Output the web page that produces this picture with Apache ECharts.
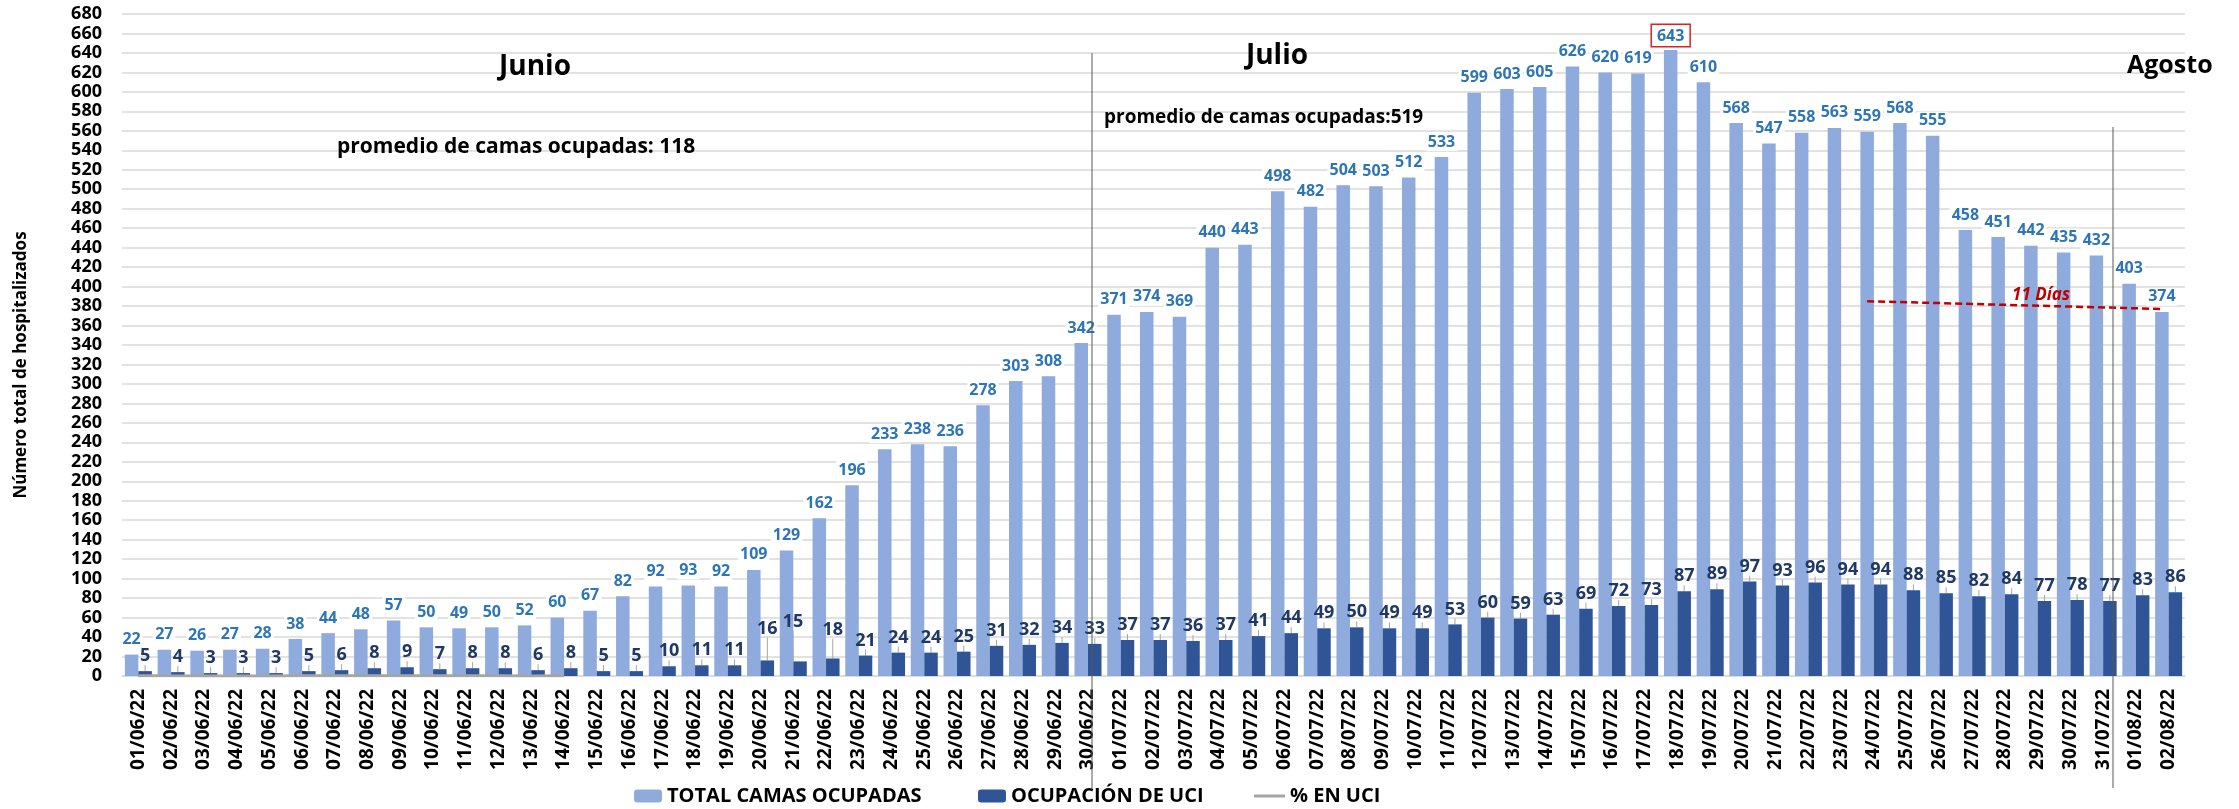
<!DOCTYPE html>
<html><head><meta charset="utf-8">
<script src="https://cdn.jsdelivr.net/npm/echarts@6/dist/echarts.min.js"></script>
<style>html,body{margin:0;padding:0;background:#fff}#c{width:2239px;height:809px}</style>
</head><body><div id="c"></div>
<script>
const categories = [
 '01/06/22','02/06/22','03/06/22','04/06/22','05/06/22','06/06/22','07/06/22','08/06/22','09/06/22','10/06/22',
 '11/06/22','12/06/22','13/06/22','14/06/22','15/06/22','16/06/22','17/06/22','18/06/22','19/06/22','20/06/22',
 '21/06/22','22/06/22','23/06/22','24/06/22','25/06/22','26/06/22','27/06/22','28/06/22','29/06/22','30/06/22',
 '01/07/22','02/07/22','03/07/22','04/07/22','05/07/22','06/07/22','07/07/22','08/07/22','09/07/22','10/07/22',
 '11/07/22','12/07/22','13/07/22','14/07/22','15/07/22','16/07/22','17/07/22','18/07/22','19/07/22','20/07/22',
 '21/07/22','22/07/22','23/07/22','24/07/22','25/07/22','26/07/22','27/07/22','28/07/22','29/07/22','30/07/22',
 '31/07/22','01/08/22','02/08/22'
];
const totalCamas = [
 22,27,26,27,28,38,44,48,57,50,
 49,50,52,60,67,82,92,93,92,109,
 129,162,196,233,238,236,278,303,308,342,
 371,374,369,440,443,498,482,504,503,512,
 533,599,603,605,626,620,619,643,610,568,
 547,558,563,559,568,555,458,451,442,435,
 432,403,374
];
const ocupacionUci = [
 5,4,3,3,3,5,6,8,9,7,
 8,8,6,8,5,5,10,11,11,16,
 15,18,21,24,24,25,31,32,34,33,
 37,37,36,37,41,44,49,50,49,49,
 53,60,59,63,69,72,73,87,89,97,
 93,96,94,94,88,85,82,84,77,78,
 77,83,86
];
const pctUci = [0.23,0.15,0.12,0.11,0.11,0.13,0.14,0.17,0.16,0.14,0.16,0.16,0.12,0.13];
const yMin = 0, yMax = 680, yStep = 20;
const seriesNames = ['TOTAL CAMAS OCUPADAS','OCUPACIÓN DE UCI','% EN UCI'];
const trendStart = ['24/07/22', 385], trendEnd = ['02/08/22', 377];

const FONT = 'Open Sans';
const maxIdx = totalCamas.indexOf(Math.max(...totalCamas));
const totalData = totalCamas.map((v,i) => i === maxIdx
  ? {value: v, label: {borderColor:'#E02020', borderWidth:1.5, padding:[3,5,2,5], distance:4, backgroundColor:'#fff'}}
  : v);
const movedLabels = {19:{dy:-17}, 20:{dx:-7, dy:-25}, 21:{dy:-14}};

const chart = echarts.init(document.getElementById('c'), null, {renderer:'canvas'});
const legendText = {color:'#000', fontSize:20, fontWeight:'bold', fontFamily:FONT};
chart.setOption({
  animation:false,
  backgroundColor:'#fff',
  textStyle:{fontFamily:FONT},
  grid:{left:122, right:54, top:14, bottom:133, containLabel:false},
  legend:[
    {data:[seriesNames[0]], left:634, top:786, itemWidth:28, itemHeight:13, itemGap:0, padding:0, textStyle:legendText},
    {data:[seriesNames[1]], left:978, top:786, itemWidth:28, itemHeight:13, itemGap:0, padding:0, textStyle:legendText},
    {data:[seriesNames[2]], left:1254, top:786, icon:'rect', itemWidth:31, itemHeight:3, itemGap:0, padding:0, textStyle:legendText}
  ],
  xAxis:{
    type:'category', data:categories,
    axisTick:{show:false},
    axisLine:{lineStyle:{color:'#D9D9D9', width:1.5}},
    axisLabel:{rotate:90, interval:0, margin:13, color:'#000', fontSize:19, fontWeight:'bold', fontFamily:FONT}
  },
  yAxis:{
    type:'value', min:yMin, max:yMax, interval:yStep,
    axisLine:{show:false}, axisTick:{show:false},
    splitLine:{lineStyle:{color:'#D9D9D9', width:1.5}},
    axisLabel:{margin:20, color:'#000', fontSize:18, fontWeight:'bold', fontFamily:FONT}
  },
  series:[
    {
      name:seriesNames[0], type:'bar', data:totalData, barWidth:13.5, barGap:'0%',
      itemStyle:{color:'#8FAADC'},
      label:{show:true, position:'top', distance:6, color:'#2E75B6', fontSize:16, fontWeight:'bold', fontFamily:FONT, backgroundColor:'#fff', padding:[1,2]},
      markLine:{
        silent:true, symbol:'none',
        lineStyle:{color:'#C00000', width:2.5, type:[7,4]},
        label:{show:false},
        data:[[{coord:trendStart},{coord:trendEnd}]]
      }
    },
    {
      name:seriesNames[1], type:'bar', data:ocupacionUci, barWidth:13.5, barGap:'0%',
      itemStyle:{color:'#2F5597'},
      label:{show:true, position:'top', distance:6, color:'#1F3864', fontSize:18, fontWeight:'bold', fontFamily:FONT},
      labelLine:{show:true, lineStyle:{color:'#A6A6A6', width:1}},
      labelLayout:function(p){ return movedLabels[p.dataIndex] || {}; }
    },
    {
      name:seriesNames[2], type:'line', data:pctUci, symbol:'none', showSymbol:false,
      lineStyle:{color:'#A5A5A5', width:3}, itemStyle:{color:'#A5A5A5'}, z:5
    }
  ],
  graphic:[
    {type:'line', shape:{x1:1092,y1:53,x2:1092,y2:788}, style:{stroke:'#595959', lineWidth:1}, z:100},
    {type:'line', shape:{x1:2113,y1:127,x2:2113,y2:788}, style:{stroke:'#595959', lineWidth:1}, z:100},
    {type:'text', x:21, y:365, rotation:Math.PI/2, z:100,
      style:{text:'Número total de hospitalizados', fill:'#000', font:'bold 17px "Open Sans"', textAlign:'center', textVerticalAlign:'middle'}},
    {type:'text', x:535, y:67, z:100,
      style:{text:'Junio', fill:'#000', font:'bold 28px "Open Sans"', textAlign:'center', textVerticalAlign:'middle'}},
    {type:'text', x:337, y:147, z:100,
      style:{text:'promedio de camas ocupadas: 118', fill:'#000', font:'bold 21px "Open Sans"', textAlign:'left', textVerticalAlign:'middle'}},
    {type:'text', x:1277, y:56, z:100,
      style:{text:'Julio', fill:'#000', font:'bold 28px "Open Sans"', textAlign:'center', textVerticalAlign:'middle'}},
    {type:'text', x:1104, y:118, z:100,
      style:{text:'promedio de camas ocupadas:519', fill:'#000', font:'bold 19px "Open Sans"', textAlign:'left', textVerticalAlign:'middle'}},
    {type:'text', x:2127, y:66, z:100,
      style:{text:'Agosto', fill:'#000', font:'bold 25px "Open Sans"', textAlign:'left', textVerticalAlign:'middle'}},
    {type:'text', x:2041, y:295, z:100,
      style:{text:'11 Días', fill:'#C00000', font:'italic bold 17px "Open Sans"', textAlign:'center', textVerticalAlign:'middle'}}
  ]
});
</script></body></html>
